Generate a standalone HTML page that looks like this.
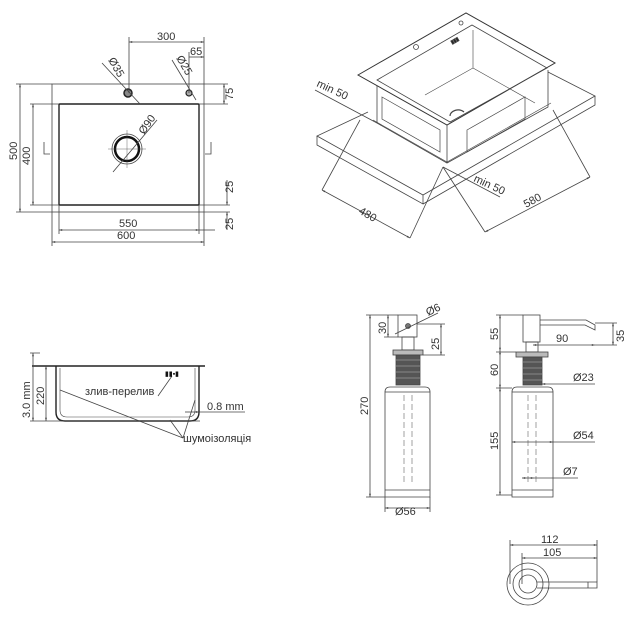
<!DOCTYPE html>
<html><head><meta charset="utf-8"><style>
html,body{margin:0;padding:0;background:#fff;width:630px;height:621px;overflow:hidden}
svg text{font-family:"Liberation Sans","DejaVu Sans",sans-serif;font-size:11px;fill:#333}
</style></head><body>
<svg width="630" height="621" viewBox="0 0 630 621" xmlns="http://www.w3.org/2000/svg">
<defs>
<marker id="a" viewBox="0 0 10 10" refX="10" refY="5" markerWidth="6" markerHeight="4" orient="auto-start-reverse"><path d="M0 2L10 5L0 8z" fill="#444"/></marker>
</defs>
<g stroke="#444" stroke-width="0.8" fill="none">
<!-- Plan view -->
<rect x="52" y="84" width="152" height="128"/>
<rect x="59" y="104" width="140" height="101" rx="1" stroke="#222" stroke-width="1.4"/>
<circle cx="127" cy="149" r="15"/>
<circle cx="127" cy="149" r="12" stroke="#111" stroke-width="2.5"/>
<line x1="108" y1="149" x2="146" y2="149" stroke-width="0.4"/>
<line x1="127" y1="130" x2="127" y2="168" stroke-width="0.4"/>
<line x1="113" y1="172" x2="157" y2="120"/>
<circle cx="128" cy="93" r="4" stroke="#222" stroke-width="1.5" fill="#888"/>
<circle cx="189" cy="93" r="3" stroke="#222" stroke-width="1.2" fill="#aaa"/>
<line x1="102" y1="63" x2="140" y2="104"/>
<line x1="172" y1="60" x2="196" y2="100"/>
<line x1="129" y1="93" x2="129" y2="37"/><line x1="204" y1="84" x2="204" y2="37"/><line x1="189" y1="93" x2="189" y2="52"/>
<line x1="129" y1="42" x2="204" y2="42" marker-start="url(#a)" marker-end="url(#a)"/>
<line x1="189" y1="57" x2="204" y2="57" marker-end="url(#a)"/>
<line x1="204" y1="84" x2="228" y2="84"/><line x1="199" y1="104" x2="228" y2="104"/>
<line x1="224" y1="84" x2="224" y2="104" marker-start="url(#a)" marker-end="url(#a)"/>
<line x1="199" y1="205" x2="230" y2="205"/><line x1="204" y1="212" x2="230" y2="212"/>
<line x1="227" y1="180" x2="227" y2="205" marker-end="url(#a)"/>
<line x1="227" y1="212" x2="227" y2="230" marker-start="url(#a)"/>
<line x1="52" y1="84" x2="16" y2="84"/><line x1="52" y1="212" x2="16" y2="212"/>
<line x1="20" y1="84" x2="20" y2="212" marker-start="url(#a)" marker-end="url(#a)"/>
<line x1="59" y1="104" x2="30" y2="104"/><line x1="59" y1="205" x2="30" y2="205"/>
<line x1="33" y1="104" x2="33" y2="205" marker-start="url(#a)" marker-end="url(#a)"/>
<line x1="59" y1="205" x2="59" y2="234"/><line x1="199" y1="205" x2="199" y2="234"/>
<line x1="52" y1="212" x2="52" y2="246"/><line x1="204" y1="212" x2="204" y2="246"/>
<line x1="59" y1="230" x2="199" y2="230" marker-start="url(#a)" marker-end="url(#a)"/>
<line x1="52" y1="242" x2="204" y2="242" marker-start="url(#a)" marker-end="url(#a)"/>
<line x1="199" y1="230" x2="215" y2="230"/>
<path d="M44 142v12h6M211 142v12h-6"/>
<!-- Iso view -->
<path d="M368 112L317 136L423 195L595 96L548 72"/>
<path d="M317 136v9l106 59v-9M423 204l172-99v-9"/>
<path d="M358 75L466 13L555 63L447 125Z" stroke="#333" stroke-width="1"/>
<path d="M377 80L472 25L547 68L450 122Z"/>
<path d="M473 30L473 68L425 95M473 68L535 103" stroke-width="0.6"/>
<path d="M377 86V123L447 163L548 107V70M447 125V163"/>
<path d="M373 120L447 162L551 103" stroke-width="0.6"/>
<path d="M382 97L440 130V152L382 119Z" stroke-width="0.7"/>
<path d="M467 130L525 97V119L467 152Z" stroke-width="0.7"/>
<path d="M450 116a8 6 0 0 1 14-4" stroke-width="1.2"/>
<circle cx="416" cy="47" r="2.5"/><circle cx="461" cy="23" r="2"/>
<text x="452" y="44" style="font-size:5px;fill:#222" transform="rotate(-30 452 44)">▮▮▮</text>
<line x1="315" y1="90" x2="377" y2="123"/>
<line x1="443" y1="167" x2="500" y2="197"/>
<line x1="360" y1="120" x2="322" y2="190"/><line x1="443" y1="167" x2="410" y2="238"/>
<line x1="443" y1="167" x2="485" y2="232"/><line x1="553" y1="110" x2="590" y2="177"/>
<line x1="322" y1="190" x2="410" y2="238" marker-start="url(#a)" marker-end="url(#a)"/>
<line x1="485" y1="232" x2="590" y2="177" marker-start="url(#a)" marker-end="url(#a)"/>
<!-- Section view -->
<path d="M32 366H205" stroke="#222" stroke-width="1.6"/>
<path d="M56 366V412q0 9 9 9H190q9 0 9-9V366" stroke="#222" stroke-width="1.4"/>
<path d="M60 368V410q0 7 7 7H188q7 0 7-7V368" stroke-width="0.6"/>
<path d="M30 353H40M30 421H200"/>
<line x1="33" y1="353" x2="33" y2="421" marker-start="url(#a)" marker-end="url(#a)"/>
<line x1="46" y1="366" x2="46" y2="421" marker-start="url(#a)" marker-end="url(#a)"/>
<path d="M60 390L183 438M170 420L183 438M195 400L183 438M172 376L158 396"/>
<line x1="185" y1="412" x2="199" y2="412" marker-end="url(#a)"/><line x1="199" y1="412" x2="245" y2="412"/>
<!-- Dispenser 1 -->
<rect x="398" y="315" width="19" height="22"/>
<circle cx="408" cy="326" r="2.5" fill="#777"/>
<rect x="402" y="337" width="12" height="13"/>
<rect x="393" y="350" width="30" height="5" fill="#bbb"/>
<rect x="396" y="355" width="24" height="30" fill="#555"/>
<path d="M396 360h24M396 366h24M396 372h24M396 378h24" stroke="#999"/>
<path d="M385 497V392q0-5 5-5H425q5 0 5 5V497Z"/>
<path d="M385 392h45M385 490h45"/>
<path d="M404 395V485M412 395V485" stroke-dasharray="6 3" stroke-width="0.5"/>
<path d="M398 315H366M385 497H366M398 337H384"/>
<line x1="370" y1="315" x2="370" y2="497" marker-start="url(#a)" marker-end="url(#a)"/>
<line x1="388" y1="315" x2="388" y2="337" marker-start="url(#a)" marker-end="url(#a)"/>
<path d="M417 324H445M423 355H445"/>
<line x1="441" y1="324" x2="441" y2="355" marker-start="url(#a)" marker-end="url(#a)"/>
<line x1="395" y1="334" x2="438" y2="313"/>
<path d="M385 497V512M430 497V512"/>
<line x1="385" y1="508" x2="430" y2="508" marker-start="url(#a)" marker-end="url(#a)"/>
<!-- Dispenser 2 -->
<rect x="523" y="315" width="17" height="27"/>
<path d="M540 320H586L595 325V330L585 325H540"/>
<rect x="526" y="342" width="12" height="10"/>
<rect x="516" y="352" width="32" height="5" fill="#bbb"/>
<rect x="523" y="357" width="19" height="28" fill="#555"/>
<path d="M523 362h19M523 368h19M523 374h19M523 380h19" stroke="#999"/>
<path d="M512 497V392q0-5 5-5H548q5 0 5 5V497Z"/>
<path d="M512 392h41M512 490h41"/>
<path d="M528 395V485M536 395V485" stroke-dasharray="6 3" stroke-width="0.5"/>
<path d="M523 315H496M516 352H496M512 388H496M512 495H496"/>
<line x1="500" y1="315" x2="500" y2="351" marker-start="url(#a)" marker-end="url(#a)"/>
<line x1="500" y1="351" x2="500" y2="388" marker-start="url(#a)" marker-end="url(#a)"/>
<line x1="500" y1="388" x2="500" y2="495" marker-start="url(#a)" marker-end="url(#a)"/>
<line x1="533" y1="345" x2="595" y2="345" marker-start="url(#a)" marker-end="url(#a)"/>
<path d="M595 323H617M595 345H617"/>
<line x1="613" y1="323" x2="613" y2="345" marker-start="url(#a)" marker-end="url(#a)"/>
<line x1="542" y1="384" x2="595" y2="384" marker-start="url(#a)"/>
<line x1="512" y1="442" x2="553" y2="442" marker-start="url(#a)" marker-end="url(#a)"/><line x1="553" y1="442" x2="595" y2="442"/>
<line x1="522" y1="478" x2="534" y2="478" marker-start="url(#a)" marker-end="url(#a)"/><line x1="534" y1="478" x2="578" y2="478"/>
<!-- Top view -->
<circle cx="528" cy="584" r="21"/><circle cx="528" cy="584" r="15"/><circle cx="528" cy="584" r="9"/>
<path d="M537 582H597V588H537M588 582V588"/>
<path d="M510 584V540M522 584V553M597 582V540"/>
<line x1="510" y1="545" x2="597" y2="545" marker-start="url(#a)" marker-end="url(#a)"/>
<line x1="522" y1="558" x2="597" y2="558" marker-start="url(#a)" marker-end="url(#a)"/>
</g>
<text x="157" y="40">300</text><text x="190" y="55">65</text>
<text x="0" y="0" transform="translate(108 60) rotate(60)">Ø35</text>
<text x="0" y="0" transform="translate(176 58) rotate(60)">Ø25</text>
<text x="0" y="0" transform="translate(144 135) rotate(-55)">Ø90</text>
<text x="0" y="0" transform="translate(233 100) rotate(-90)">75</text>
<text x="0" y="0" transform="translate(233 193) rotate(-90)">25</text>
<text x="0" y="0" transform="translate(233 230) rotate(-90)">25</text>
<text x="0" y="0" transform="translate(17 160) rotate(-90)">500</text>
<text x="0" y="0" transform="translate(30 165) rotate(-90)">400</text>
<text x="119" y="227">550</text><text x="117" y="239">600</text>
<text x="0" y="0" transform="translate(316 86) rotate(25)">min 50</text>
<text x="0" y="0" transform="translate(473 181) rotate(25)">min 50</text>
<text x="0" y="0" transform="translate(358 213) rotate(30)">480</text>
<text x="0" y="0" transform="translate(526 208) rotate(-28)">580</text>
<text x="0" y="0" transform="translate(30 418) rotate(-90)">3.0 mm</text>
<text x="0" y="0" transform="translate(44 405) rotate(-90)">220</text>
<text x="85" y="395">злив-перелив</text>
<text x="165" y="376" style="font-size:7px;fill:#111">▮▮▪▮</text>
<text x="207" y="410">0.8 mm</text>
<text x="183" y="442">шумоізоляція</text>
<text x="0" y="0" transform="translate(368 415) rotate(-90)">270</text>
<text x="0" y="0" transform="translate(386 334) rotate(-90)">30</text>
<text x="0" y="0" transform="translate(439 350) rotate(-90)">25</text>
<text x="0" y="0" transform="translate(428 316) rotate(-25)">Ø6</text>
<text x="395" y="515">Ø56</text>
<text x="0" y="0" transform="translate(498 340) rotate(-90)">55</text>
<text x="0" y="0" transform="translate(498 376) rotate(-90)">60</text>
<text x="0" y="0" transform="translate(498 450) rotate(-90)">155</text>
<text x="556" y="342">90</text>
<text x="0" y="0" transform="translate(624 342) rotate(-90)">35</text>
<text x="573" y="381">Ø23</text><text x="573" y="439">Ø54</text><text x="563" y="475">Ø7</text>
<text x="541" y="543">112</text><text x="543" y="556">105</text>
</svg>
</body></html>
